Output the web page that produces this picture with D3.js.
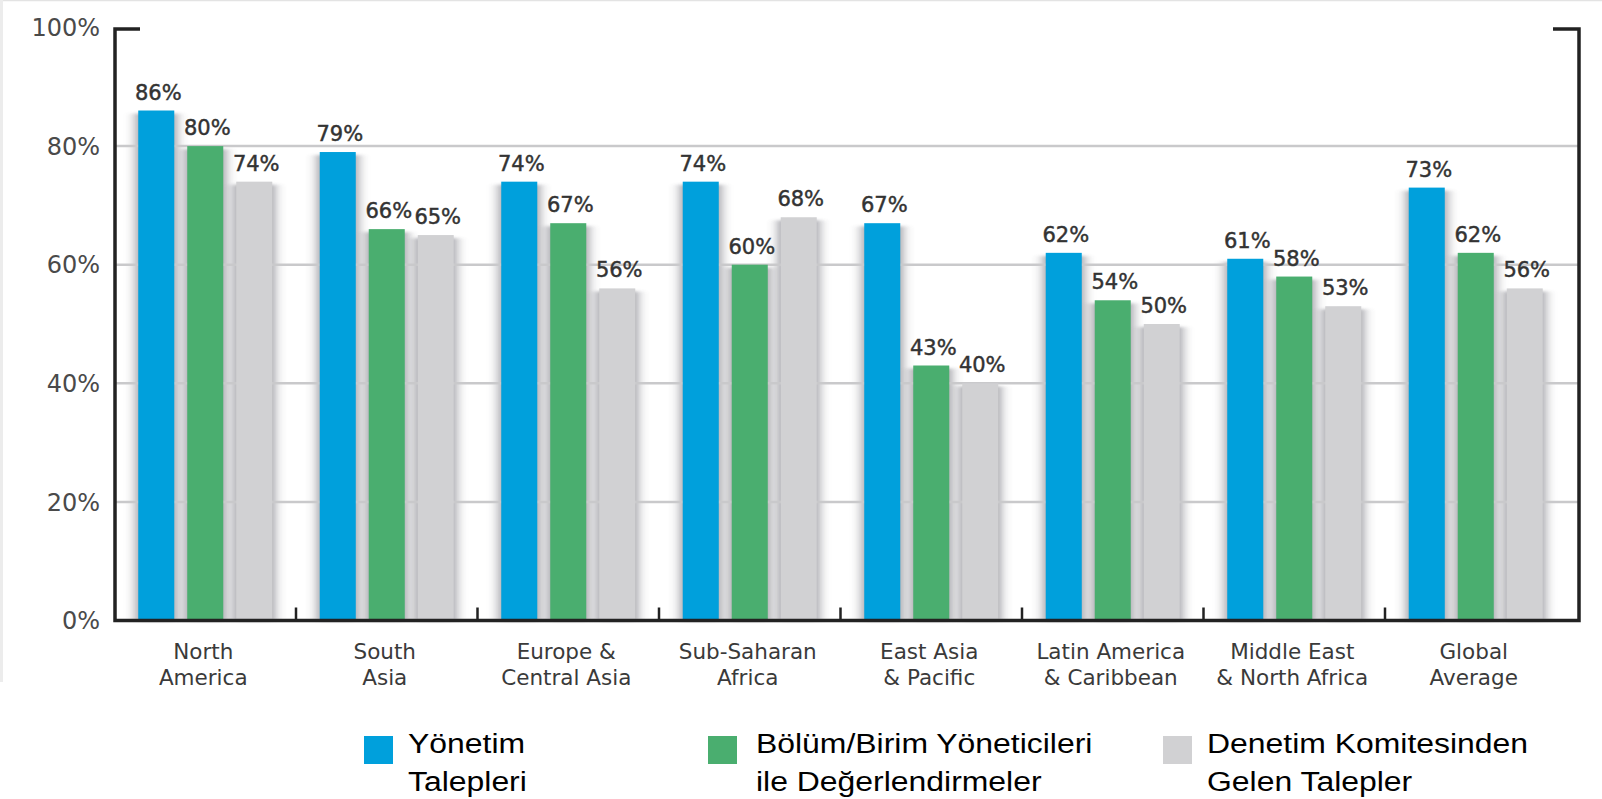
<!DOCTYPE html>
<html>
<head>
<meta charset="utf-8">
<script src="https://cdn.jsdelivr.net/npm/d3@7"></script>
<style>
    html, body { margin: 0; padding: 0; background: #fff; }
    svg { display: block; }
</style>
</head>
<body>
<svg id="chart" width="1602" height="799"></svg>
<script>
/**
 * Data.
 */
const categories = [
    ['North', 'America'],
    ['South', 'Asia'],
    ['Europe &', 'Central Asia'],
    ['Sub-Saharan', 'Africa'],
    ['East Asia', '& Pacific'],
    ['Latin America', '& Caribbean'],
    ['Middle East', '& North Africa'],
    ['Global', 'Average']
];
const seriesLabels = [
    ['Yönetim', 'Talepleri'],
    ['Bölüm/Birim Yöneticileri', 'ile Değerlendirmeler'],
    ['Denetim Komitesinden', 'Gelen Talepler']
];
const management = [86, 79, 74, 74, 67, 62, 61, 73];
const unitManagers = [80, 66, 67, 60, 43, 54, 58, 62];
const auditCommittee = [74, 65, 56, 68, 40, 50, 53, 56];
const yTicks = [0, 20, 40, 60, 80, 100];

/**
 * Visual configs.
 */
const colors = ['#00a0dc', '#4aae6f', '#d1d1d3'];
const axisColor = '#222';
const textColor = '#3a3a3a';
const axisFont = '"DejaVu Sans", sans-serif';
const legendFont = '"Liberation Sans", Arial, sans-serif';

const plot = { left: 115, right: 1579, top: 27.5, bottom: 620.5, bandStart: 114.5, bandEnd: 1566.5 };

const svg = d3.select('#chart');

// Rows: one per category, each holding the three series values
const series = [management, unitManagers, auditCommittee];
const rows = categories.map((c, i) => ({
    key: c.join(' '),
    lines: c,
    values: series.map((s, j) => ({ series: j, value: s[i] }))
}));

/**
 * Scales.
 */
const x0 = d3.scaleBand()
    .domain(rows.map(d => d.key))
    .range([plot.bandStart, plot.bandEnd])
    .padding(0);

const x1 = d3.scaleBand()
    .domain([0, 1, 2])
    .range([23.75, x0.bandwidth() - 23.75])
    .paddingInner(0.265)
    .paddingOuter(0);

const y = d3.scaleLinear()
    .domain([0, 100])
    .range([plot.bottom, plot.top]);

/**
 * Defs: soft shadow behind each bar.
 */
const defs = svg.append('defs');
const shadow = defs.append('filter').attr('id', 'shadow')
    .attr('x', '-150%').attr('width', '400%')
    .attr('y', '-5%').attr('height', '110%');
shadow.append('feGaussianBlur').attr('stdDeviation', '6 1.5');

// Light frame lines of the original image
svg.append('line')
    .attr('x1', 0).attr('x2', 1602).attr('y1', 0.5).attr('y2', 0.5)
    .attr('stroke', '#e3e3e3').attr('stroke-width', 1.5);
svg.append('line')
    .attr('x1', 1.5).attr('x2', 1.5).attr('y1', 0).attr('y2', 682)
    .attr('stroke', '#ececec').attr('stroke-width', 3);

/**
 * Shadows.
 */
const groups = svg.append('g').attr('class', 'shadows')
    .selectAll('g').data(rows).join('g')
    .attr('transform', d => 'translate(' + x0(d.key) + ',0)');

groups.selectAll('rect').data(d => d.values).join('rect')
    .attr('x', d => x1(d.series) - 2)
    .attr('width', x1.bandwidth() + 4)
    .attr('y', d => y(d.value) + 3)
    .attr('height', d => y(0) - y(d.value) - 3)
    .attr('fill', '#8a8a92')
    .attr('opacity', 0.9)
    .attr('filter', 'url(#shadow)');

/**
 * Gridlines.
 */
svg.append('g').attr('class', 'grid')
    .selectAll('line').data(yTicks.filter(t => t > 0 && t < 100)).join('line')
    .attr('x1', plot.left).attr('x2', plot.right)
    .attr('y1', d => y(d)).attr('y2', d => y(d))
    .attr('stroke', '#c9c9cb').attr('stroke-width', 2.5);

/**
 * Bars and value labels.
 */
const barGroups = svg.append('g').attr('class', 'bars')
    .selectAll('g').data(rows).join('g')
    .attr('transform', d => 'translate(' + x0(d.key) + ',0)');

barGroups.selectAll('rect').data(d => d.values).join('rect')
    .attr('x', d => x1(d.series))
    .attr('width', x1.bandwidth())
    .attr('y', d => y(d.value))
    .attr('height', d => y(0) - y(d.value))
    .attr('fill', d => colors[d.series]);

barGroups.selectAll('text').data(d => d.values).join('text')
    .attr('x', d => x1(d.series) + x1.bandwidth() / 2 + 2)
    .attr('y', d => y(d.value) - 11)
    .attr('text-anchor', 'middle')
    .attr('font-family', axisFont)
    .attr('font-size', 21)
    .attr('fill', '#333')
    .attr('stroke', '#333')
    .attr('stroke-width', 0.45)
    .text(d => d.value + '%');

/**
 * Axes frame.
 */
const frame = svg.append('g').attr('class', 'frame')
    .attr('fill', 'none').attr('stroke', axisColor).attr('stroke-width', 3.5);

frame.append('path')
    .attr('d', 'M' + (plot.left + 25) + ',' + (plot.top + 1.5) +
        'H' + plot.left + 'V' + y(0) + 'H' + plot.right +
        'V' + (plot.top + 1.5) + 'H' + (plot.right - 26));

// Category separators
frame.append('g')
    .selectAll('line').data(rows.slice(1)).join('line')
    .attr('x1', d => x0(d.key)).attr('x2', d => x0(d.key))
    .attr('y1', y(0) - 13).attr('y2', y(0))
    .attr('stroke-width', 2.5);

/**
 * Y axis labels.
 */
svg.append('g').attr('class', 'y-labels')
    .selectAll('text').data(yTicks).join('text')
    .attr('x', 100)
    .attr('y', d => y(d))
    .attr('dy', '0.36em')
    .attr('text-anchor', 'end')
    .attr('font-family', axisFont)
    .attr('font-size', 24)
    .attr('fill', '#4a4a4a')
    .text(d => d + '%');

/**
 * Category labels.
 */
const catLabels = svg.append('g').attr('class', 'x-labels')
    .selectAll('text').data(rows).join('text')
    .attr('text-anchor', 'middle')
    .attr('font-family', axisFont)
    .attr('font-size', 21.5)
    .attr('fill', textColor);

catLabels.selectAll('tspan').data(d => d.lines.map(l => ({ line: l, key: d.key }))).join('tspan')
    .attr('x', d => x0(d.key) + x0.bandwidth() / 2 - 2)
    .attr('y', (d, i) => 659 + i * 26)
    .text(d => d.line);

/**
 * Legend.
 */
const legendPos = [
    { box: 364, text: 408 },
    { box: 708, text: 756 },
    { box: 1163, text: 1207 }
];

const legend = svg.append('g').attr('class', 'legend')
    .selectAll('g').data(seriesLabels).join('g');

legend.append('rect')
    .attr('x', (d, i) => legendPos[i].box)
    .attr('y', 736)
    .attr('width', 29)
    .attr('height', 28)
    .attr('fill', (d, i) => colors[i]);

legend.append('g')
    .attr('transform', (d, i) => 'translate(' + legendPos[i].text + ',753) scale(1.14,1)')
    .selectAll('text').data(d => d).join('text')
    .attr('x', 0)
    .attr('y', (d, i) => i * 38)
    .attr('font-family', legendFont)
    .attr('font-size', 28)
    .attr('fill', '#000')
    .text(d => d);
</script>
</body>
</html>
